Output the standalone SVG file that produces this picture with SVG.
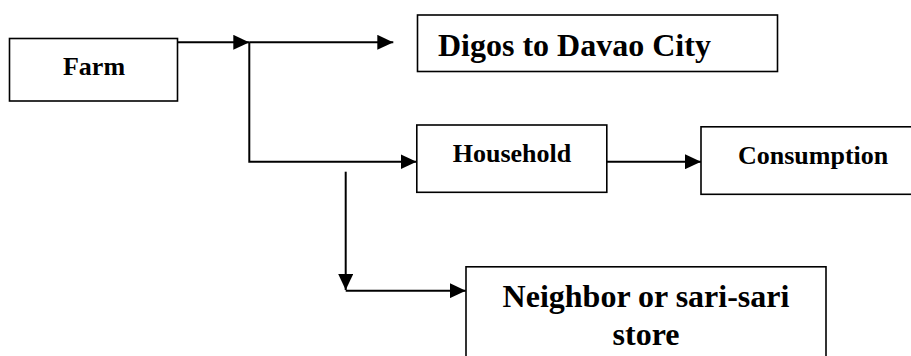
<svg xmlns="http://www.w3.org/2000/svg" width="911" height="356" viewBox="0 0 911 356">
<style>
.box{fill:#fff;stroke:#000;stroke-width:1.6}
.lbl{font-family:"Liberation Serif","Times New Roman",serif;font-weight:bold;fill:#000}
.s{font-size:26px}
.l{font-size:32px}
.ln{fill:none;stroke:#000;stroke-width:2}
</style>
<defs>
<marker id="ah" markerWidth="16" markerHeight="15" refX="16" refY="7.5" orient="auto" markerUnits="userSpaceOnUse">
<path d="M0,0 L16,7.5 L0,15 Z" fill="#000"/>
</marker>
</defs>
<rect width="911" height="356" fill="#fff"/>
<g id="farm">
<rect class="box" x="9.5" y="38.5" width="168" height="62.5"/>
<text class="lbl s" x="94" y="75" text-anchor="middle">Farm</text>
</g>
<g id="digos">
<rect class="box" x="417.5" y="15" width="360" height="56.5"/>
<text class="lbl l" x="438" y="56">Digos to Davao City</text>
</g>
<g id="household">
<rect class="box" x="416.8" y="125" width="190" height="67.3"/>
<text class="lbl s" x="512" y="161.5" text-anchor="middle">Household</text>
</g>
<g id="consumption">
<rect class="box" x="701" y="126.8" width="220" height="67.5"/>
<text class="lbl s" x="738" y="163.5">Consumption</text>
</g>
<g id="neighbor">
<rect class="box" x="466" y="266.8" width="360" height="100"/>
<text class="lbl l" x="646" y="307" text-anchor="middle">Neighbor or sari-sari</text>
<text class="lbl l" x="646" y="345" text-anchor="middle">store</text>
</g>
<g id="connectors">
<path class="ln" d="M177.5,42.3 H249.3" marker-end="url(#ah)"/>
<path class="ln" d="M249.3,42.3 H393.3" marker-end="url(#ah)"/>
<path class="ln" d="M249.3,42.3 V161.7 H416.5" marker-end="url(#ah)"/>
<path class="ln" d="M606.8,161.7 H701" marker-end="url(#ah)"/>
<path class="ln" d="M345.7,171.7 V290" marker-end="url(#ah)"/>
<path class="ln" d="M345.7,290.7 H465.8" marker-end="url(#ah)"/>
</g>
</svg>
